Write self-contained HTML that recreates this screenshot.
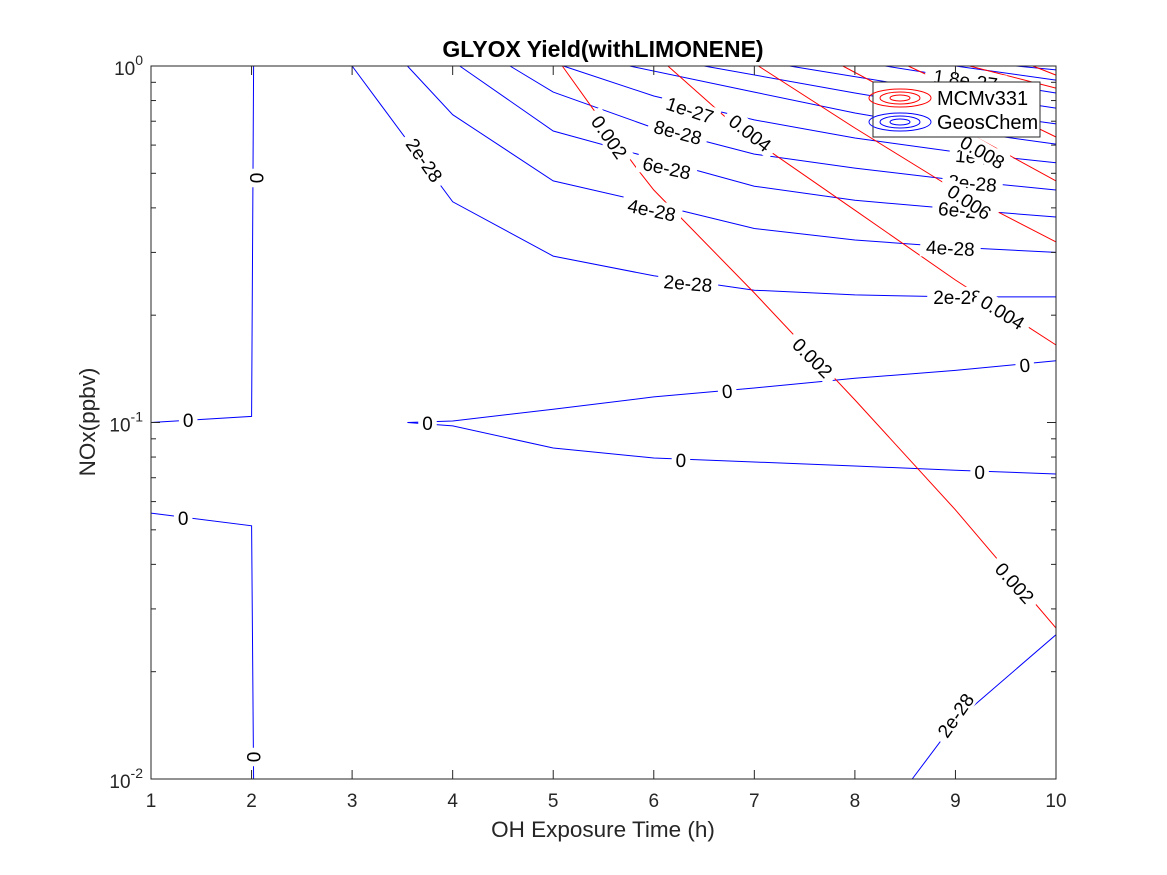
<!DOCTYPE html>
<html><head><meta charset="utf-8"><style>
body{margin:0;background:#fff;}
svg{display:block;font-family:"Liberation Sans",Arial,sans-serif;}
</style></head><body>
<svg id="chart" width="1167" height="875" viewBox="0 0 1167 875">
<rect width="1167" height="875" fill="#fff"/>
<g id="lines"></g><g id="labels"></g><g id="axes"></g>
<text x="603" y="57" text-anchor="middle" font-size="23" font-weight="bold" fill="#000">GLYOX Yield(withLIMONENE)</text>
<text x="603" y="837" text-anchor="middle" font-size="22.5" fill="#262626">OH Exposure Time (h)</text>
<text transform="translate(95,422) rotate(-90)" text-anchor="middle" font-size="22.5" fill="#262626">NOx(ppbv)</text>
<g>
<rect x="873" y="82" width="167" height="55" fill="#fff" stroke="#262626" stroke-width="1"/>
<g fill="none" stroke="#f00" stroke-width="1">
<ellipse cx="900" cy="98" rx="31" ry="9"/><ellipse cx="900" cy="98" rx="20" ry="6"/><ellipse cx="900" cy="98" rx="10" ry="3"/></g>
<text x="937" y="105" font-size="20" fill="#000">MCMv331</text>
<g fill="none" stroke="#00f" stroke-width="1">
<ellipse cx="900" cy="122" rx="31" ry="9"/><ellipse cx="900" cy="122" rx="20" ry="6"/><ellipse cx="900" cy="122" rx="10" ry="3"/></g>
<text x="937" y="129" font-size="20" fill="#000">GeosChem</text>
</g>
</svg>
<script>
// Axis ranges
const xTicks=[1,2,3,4,5,6,7,8,9,10];
const yDecades=[-2,-1,0];
// GeosChem contours (blue): [time h, NOx ppbv]
const gc0a=[[1,0.1],[2,0.104],[2.02,1]];
const gc0b=[[1,0.0557],[2,0.0513],[2.02,0.01]];
const gc0c=[[10,0.149],[9,0.14],[8,0.133],[7,0.125],[6,0.118],[5,0.109],[4,0.101],[3.55,0.1],[4,0.0978],[5,0.0848],[6,0.0795],[7,0.0775],[8,0.0755],[9,0.0735],[10,0.0717]];
const gc2e28=[[3,1],[4,0.416],[5,0.293],[6,0.258],[7,0.235],[8,0.228],[9,0.225],[10,0.225]];
const gc2e28low=[[8.57,0.01],[9,0.0145],[10,0.0254]];
const gc4e28=[[3.55,1],[4,0.73],[5,0.476],[6,0.41],[7,0.35],[8,0.325],[9,0.31],[10,0.30]];
const gc6e28=[[4.07,1],[5,0.657],[6,0.55],[7,0.46],[8,0.42],[9,0.397],[10,0.377]];
const gc8e28=[[4.57,1],[5,0.845],[6,0.67],[7,0.566],[8,0.517],[9,0.479],[10,0.449]];
const gc1e27=[[5.1,1],[6,0.824],[7,0.706],[8,0.628],[9,0.574],[10,0.535]];
const gc12e27=[[5.76,1],[7,0.845],[8,0.738],[9,0.66],[10,0.604]];
const gc14e27=[[6.5,1],[8,0.84],[9,0.753],[10,0.688]];
const gc16e27=[[7.35,1],[9,0.84],[10,0.762]];
const gc18e27=[[8.3,1],[10,0.84]];
const gc2e27=[[9.0,1],[10,0.913]];
const gc22e27=[[9.6,1],[10,0.975]];
// MCMv331 contours (red)
const mcm002=[[5.09,1],[5.39,0.762],[5.82,0.521],[6,0.449],[7,0.231],[8,0.1157],[9,0.0569],[10,0.0265]];
const mcm004=[[6.14,1],[6.71,0.72],[7,0.618],[8,0.394],[9,0.251],[10,0.165]];
const mcm006=[[7.04,1],[8,0.67],[9,0.449],[10,0.321]];
const mcm008=[[7.88,1],[9,0.679],[10,0.476]];
const mcm010=[[8.53,1],[9,0.867],[10,0.632]];
const mcm012=[[9.14,1],[10,0.867]];
const mcm014=[[9.77,1],[10,0.943]];
const blueSeries=[gc0a,gc0b,gc0c,gc2e28,gc2e28low,gc4e28,gc6e28,gc8e28,gc1e27,gc12e27,gc14e27,gc16e27,gc18e27,gc2e27,gc22e27];
const redSeries=[mcm002,mcm004,mcm006,mcm008,mcm010,mcm012,mcm014];
// Contour labels: text, time, NOx, angle
const labelText=["0","0","0","0","0","0","0","0","0","2e-28","2e-28","2e-28","2e-28","4e-28","4e-28","6e-28","6e-28","8e-28","8e-28","1e-27","1e-27","1.8e-27","0.002","0.002","0.002","0.004","0.004","0.006","0.008"];
const labelT=[1.37,1.32,2.05,2.02,3.75,6.73,6.27,9.69,9.24,3.72,6.34,9.02,9.0,5.98,8.95,6.13,9.07,6.24,9.17,6.36,9.24,9.1,5.56,7.58,9.59,6.96,9.47,9.14,9.27];
const labelN=[0.1016,0.054,0.485,0.01153,0.0997,0.1226,0.0785,0.145,0.0727,0.545,0.246,0.225,0.0151,0.395,0.309,0.518,0.394,0.653,0.47,0.753,0.556,0.914,0.632,0.152,0.0355,0.649,0.204,0.416,0.574];
const labelAng=[0,0,-90,-90,0,-5,2,-5,1,55,5,0,-55,12,3,12,5,15,5,18,5,8,55,45,48,38,32,33,30];

const X0=151,X1=1056,Y0=779,Y1=66;
function sx(t){return X0+(t-1)/9*(X1-X0);}
function sy(n){return Y0-(Math.log10(n)+2)/2*(Y0-Y1);}
const NS="http://www.w3.org/2000/svg";
function mk(tag,attrs,parent){const e=document.createElementNS(NS,tag);for(const k in attrs)e.setAttribute(k,attrs[k]);parent.appendChild(e);return e;}
const gl=document.getElementById('lines'),glab=document.getElementById('labels'),ga=document.getElementById('axes');
function drawSeries(list,color,nm){
  list.forEach((s,i)=>{
    const p=mk('polyline',{points:s.map(d=>sx(d[0]).toFixed(1)+','+sy(d[1]).toFixed(1)).join(' '),fill:'none',stroke:color,'stroke-width':1},gl);
    
    
  });
}
drawSeries(blueSeries,'#00f','geoschem');
drawSeries(redSeries,'#f00','mcm');
labelText.forEach((t,i)=>{
  const x=sx(labelT[i]),y=sy(labelN[i]);
  const g=mk('g',{transform:`translate(${x.toFixed(1)},${y.toFixed(1)}) rotate(${labelAng[i]})`},glab);
  
  
  const w=t.length*10.5+8;
  mk('rect',{x:-w/2,y:-10,width:w,height:20,fill:'#fff'},g);
  mk('text',{x:0,y:7,'text-anchor':'middle','font-size':19,fill:'#000'},g).textContent=t;
});
const box=mk('rect',{x:X0,y:Y1,width:X1-X0,height:Y0-Y1,fill:'none',stroke:'#262626','stroke-width':1},ga);


xTicks.forEach(t=>{
  const x=sx(t);
  mk('line',{x1:x,y1:Y0,x2:x,y2:Y0-9,stroke:'#262626'},ga);
  mk('line',{x1:x,y1:Y1,x2:x,y2:Y1+9,stroke:'#262626'},ga);
  const tx=mk('text',{x:x,y:807,'text-anchor':'middle','font-size':19,fill:'#262626'},ga);
  tx.textContent=t;
  
  
});
yDecades.forEach(d=>{
  const y=sy(Math.pow(10,d));
  mk('line',{x1:X0,y1:y,x2:X0+9,y2:y,stroke:'#262626'},ga);
  mk('line',{x1:X1,y1:y,x2:X1-9,y2:y,stroke:'#262626'},ga);
  const tx=mk('text',{x:143,y:y+9,'text-anchor':'end','font-size':19,fill:'#262626'},ga);
  
  
  tx.textContent='10';
  const sup=mk('tspan',{dy:-10,'font-size':14},tx);sup.textContent=String(d);
  if(d<0){for(let m=2;m<=9;m++){const yy=sy(m*Math.pow(10,d));
    mk('line',{x1:X0,y1:yy,x2:X0+5,y2:yy,stroke:'#262626'},ga);
    mk('line',{x1:X1,y1:yy,x2:X1-5,y2:yy,stroke:'#262626'},ga);}}
});
</script>
</body></html>
